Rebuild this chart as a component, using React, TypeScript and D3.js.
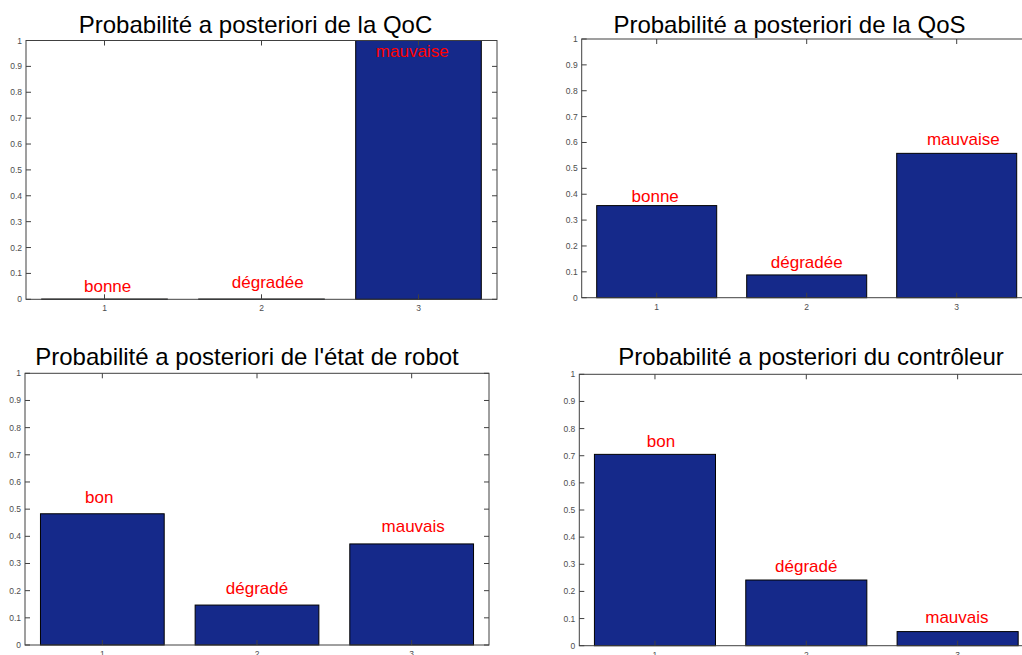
import React from "react";
import * as d3 from "d3";

// ---- data ----
const categories = [1, 2, 3];
const yTickValues = [0, 0.1, 0.2, 0.3, 0.4, 0.5, 0.6, 0.7, 0.8, 0.9, 1];

const titles = [
  "Probabilité a posteriori de la QoC",
  "Probabilité a posteriori de la QoS",
  "Probabilité a posteriori de l'état de robot",
  "Probabilité a posteriori du contrôleur",
];

const qocValues = [0.001, 0.001, 1.0];
const qosValues = [0.356, 0.088, 0.558];
const robotValues = [0.483, 0.147, 0.372];
const ctrlValues = [0.705, 0.242, 0.052];

const qocLabels = ["bonne", "dégradée", "mauvaise"];
const qosLabels = ["bonne", "dégradée", "mauvaise"];
const robotLabels = ["bon", "dégradé", "mauvais"];
const ctrlLabels = ["bon", "dégradé", "mauvais"];

// label anchor positions in data units (x category, y probability)
const qocLabelX = [1.02, 2.04, 2.96];
const qocLabelY = [0.029, 0.044, 0.938];
const qosLabelX = [0.99, 2.0, 3.044];
const qosLabelY = [0.371, 0.115, 0.59];
const robotLabelX = [0.98, 2.0, 3.01];
const robotLabelY = [0.524, 0.188, 0.416];
const ctrlLabelX = [1.04, 2.0, 2.995];
const ctrlLabelY = [0.731, 0.27, 0.083];

const seriesValues = [qocValues, qosValues, robotValues, ctrlValues];
const seriesLabels = [qocLabels, qosLabels, robotLabels, ctrlLabels];
const seriesLabelX = [qocLabelX, qosLabelX, robotLabelX, ctrlLabelX];
const seriesLabelY = [qocLabelY, qosLabelY, robotLabelY, ctrlLabelY];

// ---- layout ----
const panels = [
  { left: 26, top: 40.5, right: 497, bottom: 299.3, titleX: 255.5, titleY: 33 },
  { left: 581.7, top: 39, right: 1031.7, bottom: 297.7, titleX: 789.5, titleY: 33 },
  { left: 25, top: 373.3, right: 489, bottom: 645, titleX: 247, titleY: 365 },
  { left: 579.3, top: 374.3, right: 1033.3, bottom: 645.7, titleX: 811, titleY: 365 },
];

const BAR = "#15298A";
const AXIS = "#404040";
const FONT = "Liberation Sans, Arial, Helvetica, sans-serif";

function Panel({ idx }: { idx: number }) {
  const p = panels[idx];
  const values = seriesValues[idx];
  const labels = seriesLabels[idx];
  const lx = seriesLabelX[idx];
  const ly = seriesLabelY[idx];
  const x = d3.scaleLinear().domain([0.5, 3.5]).range([p.left, p.right]);
  const y = d3.scaleLinear().domain([0, 1]).range([p.bottom, p.top]);
  const bw = x(1.4) - x(0.6);
  const fmt = d3.format("~g");
  return (
    <g>
      <rect x={p.left} y={p.top} width={p.right - p.left} height={p.bottom - p.top} fill="#fff" />
      {categories.map((c, i) => (
        <rect
          key={"b" + i}
          x={x(c) - bw / 2}
          y={y(values[i])}
          width={bw}
          height={y(0) - y(values[i])}
          fill={BAR}
          stroke="#000"
          strokeWidth={1}
        />
      ))}
      <rect
        x={p.left}
        y={p.top}
        width={p.right - p.left}
        height={p.bottom - p.top}
        fill="none"
        stroke={AXIS}
        strokeWidth={1}
      />
      {yTickValues.map((t) => (
        <g key={"y" + t}>
          <line x1={p.left} x2={p.left + 5} y1={y(t)} y2={y(t)} stroke={AXIS} />
          <line x1={p.right} x2={p.right - 5} y1={y(t)} y2={y(t)} stroke={AXIS} />
          <text
            x={p.left - 4}
            y={y(t)}
            textAnchor="end"
            dominantBaseline="central"
            fontSize={8.5}
            fill="#4d4d4d"
            fontFamily={FONT}
          >
            {fmt(t)}
          </text>
        </g>
      ))}
      {categories.map((c) => (
        <g key={"x" + c}>
          <line x1={x(c)} x2={x(c)} y1={p.bottom} y2={p.bottom - 5} stroke={AXIS} />
          <line x1={x(c)} x2={x(c)} y1={p.top} y2={p.top + 5} stroke={AXIS} />
          <text x={x(c)} y={p.bottom + 12} textAnchor="middle" fontSize={8.5} fill="#4d4d4d" fontFamily={FONT}>
            {c}
          </text>
        </g>
      ))}
      {labels.map((l, i) => (
        <text key={"l" + i} x={x(lx[i])} y={y(ly[i])} textAnchor="middle" fontSize={17} fill="#ff0000" fontFamily={FONT}>
          {l}
        </text>
      ))}
      <text x={p.titleX} y={p.titleY} textAnchor="middle" fontSize={24} fill="#000" fontFamily={FONT}>
        {titles[idx]}
      </text>
    </g>
  );
}

export default function App() {
  return (
    <svg
      width={1022}
      height={655}
      style={{ position: "absolute", left: 0, top: 0, background: "#fff" }}
    >
      <rect x={0} y={0} width={1022} height={655} fill="#fff" />
      {panels.map((_, i) => (
        <Panel key={i} idx={i} />
      ))}
    </svg>
  );
}
